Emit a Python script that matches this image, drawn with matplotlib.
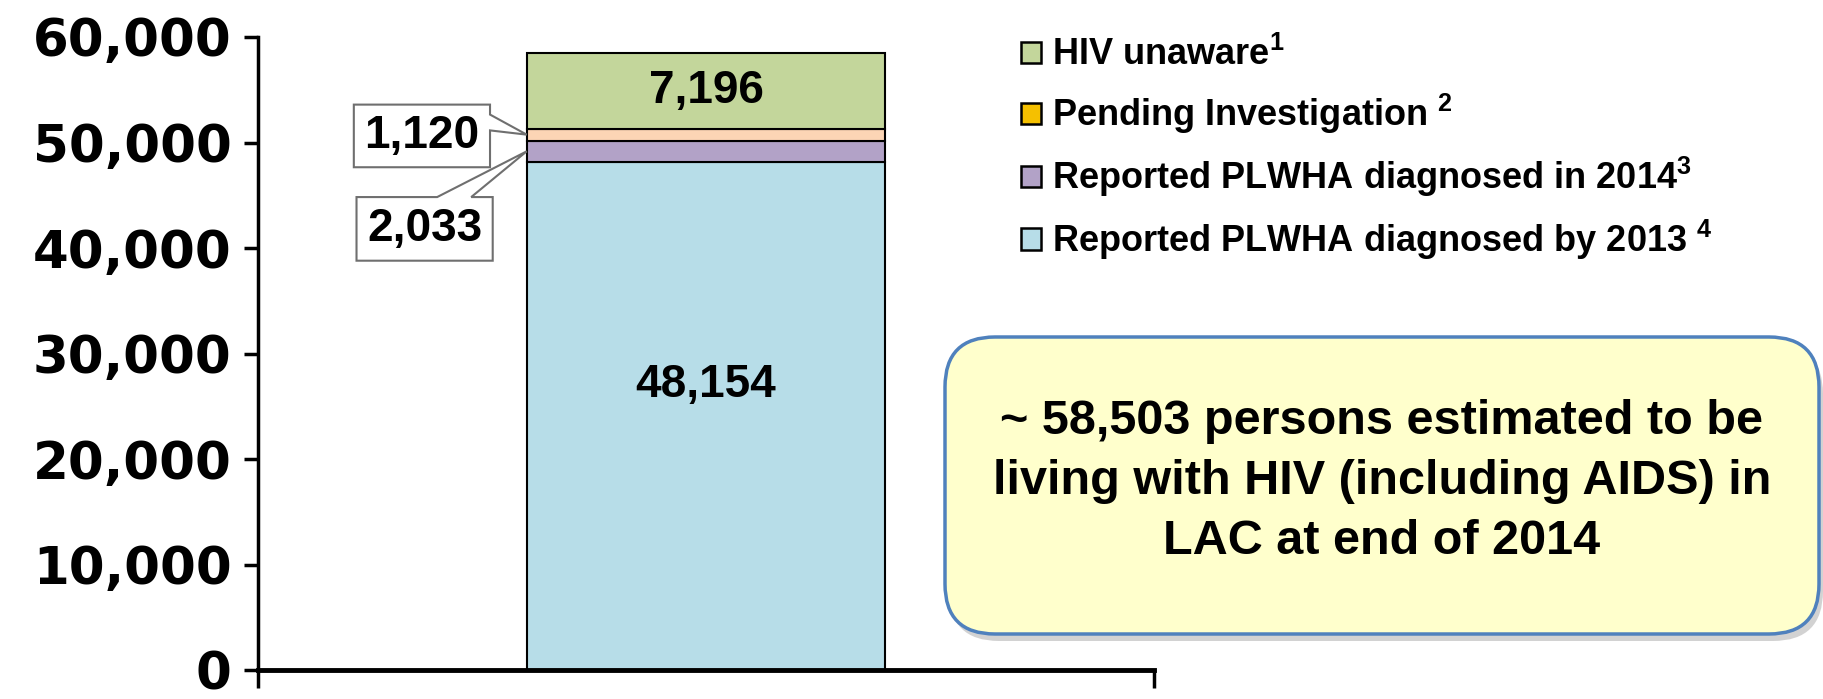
import matplotlib
matplotlib.use('Agg')
import matplotlib.pyplot as plt
from matplotlib.patches import Polygon, FancyBboxPatch, Patch

plt.rcParams['mathtext.fontset'] = 'custom'
plt.rcParams['mathtext.rm'] = 'Liberation Sans:bold'
plt.rcParams['mathtext.it'] = 'Liberation Sans:bold'
plt.rcParams['mathtext.bf'] = 'Liberation Sans:bold'

# data (stacked bottom -> top)
segments = ['Reported PLWHA diagnosed by 2013', 'Reported PLWHA diagnosed in 2014',
            'Pending Investigation', 'HIV unaware']
values = [48154, 2033, 1120, 7196]
bar_colors = ['#B7DDE8', '#B2A2C7', '#FCD5B5', '#C3D69B']
legend_labels = ['HIV unaware$^{1}$', 'Pending Investigation $^{2}$',
                 'Reported PLWHA diagnosed in 2014$^{3}$', 'Reported PLWHA diagnosed by 2013 $^{4}$']
legend_colors = ['#C3D69B', '#F5C000', '#B2A2C7', '#B7DDE8']
yticks = [0, 10000, 20000, 30000, 40000, 50000, 60000]
total_text = '~ 58,503 persons estimated to be\nliving with HIV (including AIDS) in\nLAC at end of 2014'

fig = plt.figure(figsize=(18.23, 6.99), dpi=100)
ax = fig.add_axes([0.1415, 0.041, 0.4915, 0.9061])

bottom = 0
tops = []
for name, v, c in zip(segments, values, bar_colors):
    ax.bar(0, v, width=0.4, bottom=bottom, color=c, edgecolor='black', linewidth=1.5, zorder=2)
    bottom += v
    tops.append(bottom)

ax.set_xlim(-0.5, 0.5)
ax.set_ylim(0, 60000)
ax.set_yticks(yticks)
ax.set_yticklabels([f'{t:,}' for t in yticks], fontsize=37, fontweight='bold', family='DejaVu Sans')
ax.set_xticks([-0.5, 0.5])
ax.set_xticklabels(['', ''])
ax.tick_params(axis='y', length=10, width=2.5, pad=9)
ax.tick_params(axis='x', length=13, width=2.5)
for s in ['top', 'right']:
    ax.spines[s].set_visible(False)
ax.spines['left'].set_linewidth(2.5)
ax.spines['bottom'].set_linewidth(3.5)

lab_font = dict(fontsize=33, fontweight='bold', family='Liberation Sans', ha='center', va='center')
# in-bar labels
ax.text(0, tops[2] + values[3] / 2, f'{values[3]:,}', **lab_font, zorder=3)
ax.text(0, 27000, f'{values[0]:,}', **lab_font, zorder=3)

# callout for pending investigation
L, R, B, T = -0.393, -0.241, 47660, 53593
tip = (-0.2, tops[1] + values[2] / 2)
ax.add_patch(Polygon([(L, B), (L, T), (R, T), (R, 52650), tip, (R, 51150), (R, B)],
                     closed=True, facecolor='white', edgecolor='#6F6F6F', linewidth=1.5, zorder=4))
ax.text((L + R) / 2, (B + T) / 2, f'{values[2]:,}', **lab_font, zorder=5)

# callout for diagnosed in 2014
L, R, B, T = -0.390, -0.238, 38806, 44834
tip = (-0.2, tops[0] + values[1] / 2)
ax.add_patch(Polygon([(L, B), (L, T), (-0.300, T), tip, (-0.262, T), (R, T), (R, B)],
                     closed=True, facecolor='white', edgecolor='#6F6F6F', linewidth=1.5, zorder=4))
ax.text((L + R) / 2, (B + T) / 2, f'{values[1]:,}', **lab_font, zorder=5)

# legend
handles = [Patch(facecolor=c, edgecolor='black', linewidth=1.8) for c in legend_colors]
fig.legend(handles, legend_labels, loc='upper left', bbox_to_anchor=(1021 / 1823, 1 - 37 / 699),
           frameon=False, borderpad=0, borderaxespad=0, handlelength=0.55, handleheight=0.55,
           handletextpad=0.3, labelspacing=0.52,
           prop=dict(family='Liberation Sans', weight='bold', size=26))

# summary box
shadow = FancyBboxPatch((9.49, 0.58), 8.74, 2.97, boxstyle='round,pad=0,rounding_size=0.5',
                        transform=fig.dpi_scale_trans, facecolor='#7F7F7F', edgecolor='none', alpha=0.35)
box = FancyBboxPatch((9.45, 0.65), 8.74, 2.97, boxstyle='round,pad=0,rounding_size=0.5',
                     transform=fig.dpi_scale_trans, facecolor='#FFFFCC', edgecolor='#4F81BD', linewidth=2.5)
fig.add_artist(shadow)
fig.add_artist(box)
fig.text(0.758, 0.311, total_text, ha='center', va='center', fontsize=35, fontweight='bold',
         family='Liberation Sans', linespacing=1.42)

fig.savefig('out.png', dpi=100)
